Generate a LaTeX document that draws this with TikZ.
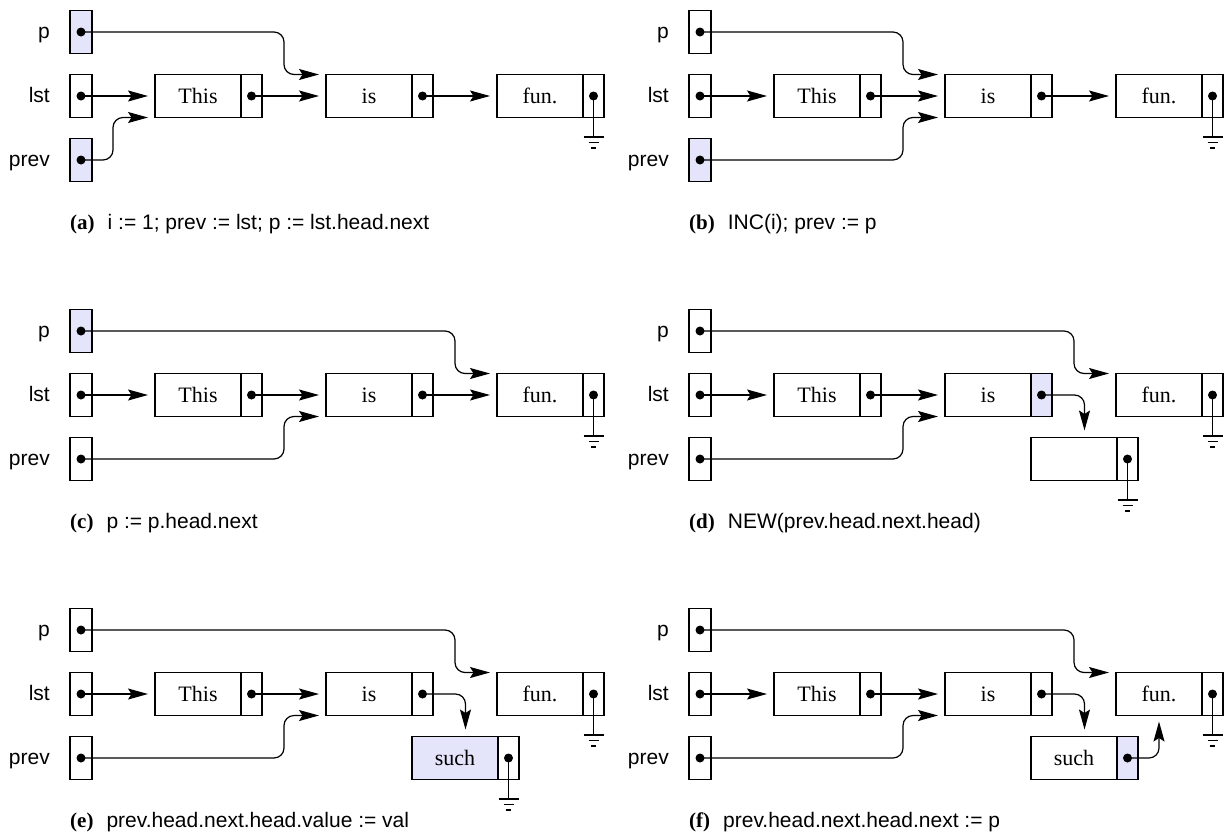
\documentclass[tikz,border=0pt]{standalone}
\usepackage{fontspec}
\setmainfont{Liberation Serif}
\setsansfont{Liberation Sans}
\usetikzlibrary{arrows.meta,calc}
\definecolor{shade}{RGB}{228,228,250}
\tikzset{
  lbl/.style={anchor=base east, font=\sffamily\fontsize{21}{25}\selectfont, inner sep=0pt},
  var/.style={draw, line width=1.3pt, minimum width=22pt, minimum height=43pt, inner sep=0pt, outer sep=0pt},
  val/.style={draw, line width=1.3pt, minimum width=86pt, minimum height=43pt, inner sep=0pt, outer sep=0pt, anchor=west, font=\fontsize{22}{26}\selectfont},
  nxt/.style={draw, line width=1.3pt, minimum width=21pt, minimum height=43pt, inner sep=0pt, outer sep=0pt, anchor=west},
  dot/.style={circle, fill=black, inner sep=0pt, minimum size=9pt},
  hl/.style={fill=shade},
  wire/.style={line width=1.2pt},
  ptr/.style={line width=1.2pt, -{Stealth[length=20pt,width=11pt,inset=3.5pt]}, shorten >=7pt, rounded corners=10pt},
  captxt/.style={anchor=base west, inner sep=0pt, font=\fontsize{21}{25}\selectfont},
}
\newcommand\gnd[1]{\draw[wire] (#1.center) -- ++(0,41) ++(-10,0) -- ++(20,0) ++(-15,5.5) -- ++(10,0) ++(-7.5,5.5) -- ++(5,0);}
\newcommand\basepanel[4]{%
  \node[lbl] (#1pl) at (50,38.5) {p};
  \node[var,#2] (#1p) at (81,32) {};
  \node[dot] (#1pd) at (#1p.center) {};
  \node[lbl] (#1ll) at (50,102.5) {lst};
  \node[var] (#1l) at (81,96) {};
  \node[dot] (#1ld) at (#1l.center) {};
  \node[lbl] (#1rl) at (50,166.5) {prev};
  \node[var,#3] (#1r) at (81,160) {};
  \node[dot] (#1rd) at (#1r.center) {};
  \node[val] (#1t) at (155,96) {This};
  \node[nxt] (#1tn) at (#1t.east) {};
  \node[dot] (#1tnd) at (#1tn.center) {};
  \node[val] (#1i) at (326,96) {is};
  \node[nxt,#4] (#1in) at (#1i.east) {};
  \node[dot] (#1ind) at (#1in.center) {};
  \node[val] (#1f) at (497,96) {fun.};
  \node[nxt] (#1fn) at (#1f.east) {};
  \node[dot] (#1fnd) at (#1fn.center) {};
  \draw[ptr] (#1ld.center) -- (#1t.west);
  \draw[ptr] (#1tnd.center) -- (#1i.west);
  \gnd{#1fnd}
}
\begin{document}
\begin{tikzpicture}[x=1pt,y=-1pt]
\useasboundingbox (0,0) rectangle (1225,835);
% (a)
\begin{scope}
  \basepanel{a}{hl}{hl}{}
  \draw[ptr] (apd.center) -| ([xshift=-42pt]ai.north west) -- (ai.north west);
  \draw[ptr] (ard.center) -| ([xshift=-42pt]at.south west) -- (at.south west);
  \draw[ptr] (aind.center) -- (af.west);
  \node[captxt] (acap) at (70,229) {\textbf{(a)}\hspace{13pt}\sffamily i := 1; prev := lst; p := lst.head.next};
\end{scope}
% (b)
\begin{scope}[shift={(619,0)}]
  \basepanel{b}{}{hl}{}
  \draw[ptr] (bpd.center) -| ([xshift=-42pt]bi.north west) -- (bi.north west);
  \draw[ptr] (brd.center) -| ([xshift=-42pt]bi.south west) -- (bi.south west);
  \draw[ptr] (bind.center) -- (bf.west);
  \node[captxt] (bcap) at (70,229) {\textbf{(b)}\hspace{13pt}\sffamily INC(i); prev := p};
\end{scope}
% (c)
\begin{scope}[shift={(0,299)}]
  \basepanel{c}{hl}{}{}
  \draw[ptr] (cpd.center) -| ([xshift=-42pt]cf.north west) -- (cf.north west);
  \draw[ptr] (crd.center) -| ([xshift=-42pt]ci.south west) -- (ci.south west);
  \draw[ptr] (cind.center) -- (cf.west);
  \node[captxt] (ccap) at (70,229) {\textbf{(c)}\hspace{13pt}\sffamily p := p.head.next};
\end{scope}
% (d)
\begin{scope}[shift={(619,299)}]
  \basepanel{d}{}{}{hl}
  \draw[ptr] (dpd.center) -| ([xshift=-42pt]df.north west) -- (df.north west);
  \draw[ptr] (drd.center) -| ([xshift=-42pt]di.south west) -- (di.south west);
  \node[val] (dn) at (412,160) {};
  \node[nxt] (dnn) at (dn.east) {};
  \node[dot] (dnnd) at (dnn.center) {};
  \gnd{dnnd}
  \draw[ptr] (dind.center) -| ($(dn.north west)!0.5!(dnn.north east)$);
  \node[captxt] (dcap) at (70,229) {\textbf{(d)}\hspace{13pt}\sffamily NEW(prev.head.next.head)};
\end{scope}
% (e)
\begin{scope}[shift={(0,598)}]
  \basepanel{e}{}{}{}
  \draw[ptr] (epd.center) -| ([xshift=-42pt]ef.north west) -- (ef.north west);
  \draw[ptr] (erd.center) -| ([xshift=-42pt]ei.south west) -- (ei.south west);
  \node[val,hl] (en) at (412,160) {such};
  \node[nxt] (enn) at (en.east) {};
  \node[dot] (ennd) at (enn.center) {};
  \gnd{ennd}
  \draw[ptr] (eind.center) -| ($(en.north west)!0.5!(enn.north east)$);
  \node[captxt] (ecap) at (70,229) {\textbf{(e)}\hspace{13pt}\sffamily prev.head.next.head.value := val};
\end{scope}
% (f)
\begin{scope}[shift={(619,598)}]
  \basepanel{f}{}{}{}
  \draw[ptr] (fpd.center) -| ([xshift=-42pt]ff.north west) -- (ff.north west);
  \draw[ptr] (frd.center) -| ([xshift=-42pt]fi.south west) -- (fi.south west);
  \node[val] (fn) at (412,160) {such};
  \node[nxt,hl] (fnn) at (fn.east) {};
  \node[dot] (fnnd) at (fnn.center) {};
  \draw[ptr] (find.center) -| ($(fn.north west)!0.5!(fnn.north east)$);
  \draw[ptr, shorten >=6pt] (fnnd.center) -| (ff.south);
  \node[captxt] (fcap) at (70,229) {\textbf{(f)}\hspace{13pt}\sffamily prev.head.next.head.next := p};
\end{scope}
\end{tikzpicture}
\end{document}
